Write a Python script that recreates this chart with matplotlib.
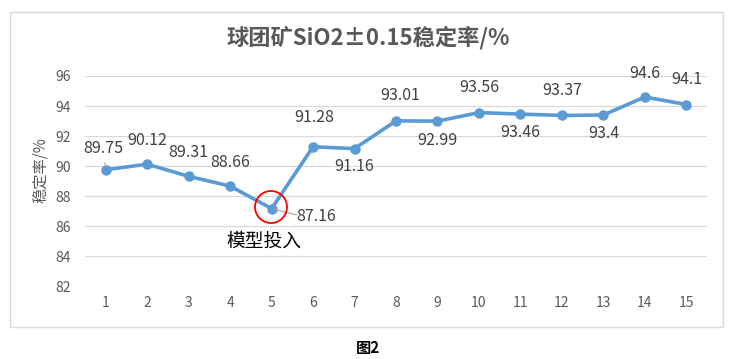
import matplotlib.pyplot as plt
from matplotlib.patches import Rectangle, Ellipse

plt.rcParams['font.family'] = ['Noto Sans CJK SC', 'DejaVu Sans']

# data
x = list(range(1, 16))
rate = [89.75, 90.12, 89.31, 88.66, 87.16, 91.28, 91.16, 93.01, 92.99, 93.56,
        93.46, 93.37, 93.4, 94.6, 94.1]
labels = ['89.75', '90.12', '89.31', '88.66', '87.16', '91.28', '91.16', '93.01',
          '92.99', '93.56', '93.46', '93.37', '93.4', '94.6', '94.1']
# label offsets in points (dx, dy)
offsets = [(-2, 15), (0, 17), (0, 17), (0, 17), (32, -6), (1, 21), (0, -13), (3, 18),
           (0, -14), (0, 18), (0, -13), (0, 18), (0, -13), (0, 17), (0, 18)]

fig = plt.figure(figsize=(7.35, 3.59), dpi=100)
fig.patches.append(Rectangle((10 / 735, 1 - 327 / 359), 713 / 735, 315 / 359,
                             transform=fig.transFigure, fill=False,
                             edgecolor='#d9d9d9', linewidth=1))
ax = fig.add_axes([85 / 735, 1 - 286 / 359, 622 / 735, 210 / 359])

ax.plot(x, rate, color='#5b9bd5', linewidth=2.6, marker='o', markersize=6.5, zorder=3)
ax.set_xlim(0.5, 15.5)
ax.set_ylim(82, 96)
ax.set_yticks(range(82, 97, 2))
ax.set_xticks(x)
ax.grid(axis='y', color='#d9d9d9', linewidth=0.9)
ax.set_axisbelow(True)
for s in ax.spines.values():
    s.set_visible(False)
ax.tick_params(length=0, labelsize=10, colors='#595959', pad=7)
ax.tick_params(axis='y', pad=10)

for xi, yi, lab, (dx, dy) in zip(x, rate, labels, offsets):
    ax.annotate(lab, (xi, yi), xytext=(dx, dy), textcoords='offset points',
                ha='center', va='center', fontsize=11.5, color='#404040')

# leader lines
ax.annotate('', (5, 87.16), xytext=(20, -5), textcoords='offset points',
            arrowprops=dict(arrowstyle='-', color='#a6a6a6', lw=0.8))
ax.annotate('', (1, 89.75), xytext=(-1, 7), textcoords='offset points',
            arrowprops=dict(arrowstyle='-', color='#a6a6a6', lw=0.8))

# marked point
circ = Ellipse((271, 359 - 207), 32, 32, transform=None, fill=False,
               edgecolor='#ff0000', linewidth=1.3, zorder=4)
fig.patches.append(circ)
fig.text(264 / 735, 1 - 241 / 359, '模型投入', ha='center', va='center',
         fontsize=13.5, color='black')

fig.text(368 / 735, 1 - 38 / 359, '球团矿SiO2±0.15稳定率/%', ha='center', va='center',
         fontsize=16, fontweight='bold', color='#595959')
fig.text(40 / 735, 1 - 170 / 359, '稳定率/%', rotation=90, ha='center', va='center',
         fontsize=11, color='#595959')
fig.text(368 / 735, 1 - 348 / 359, '图2', ha='center', va='center',
         fontsize=11, fontweight='bold', color='black')

fig.savefig('out.png', dpi=100)
